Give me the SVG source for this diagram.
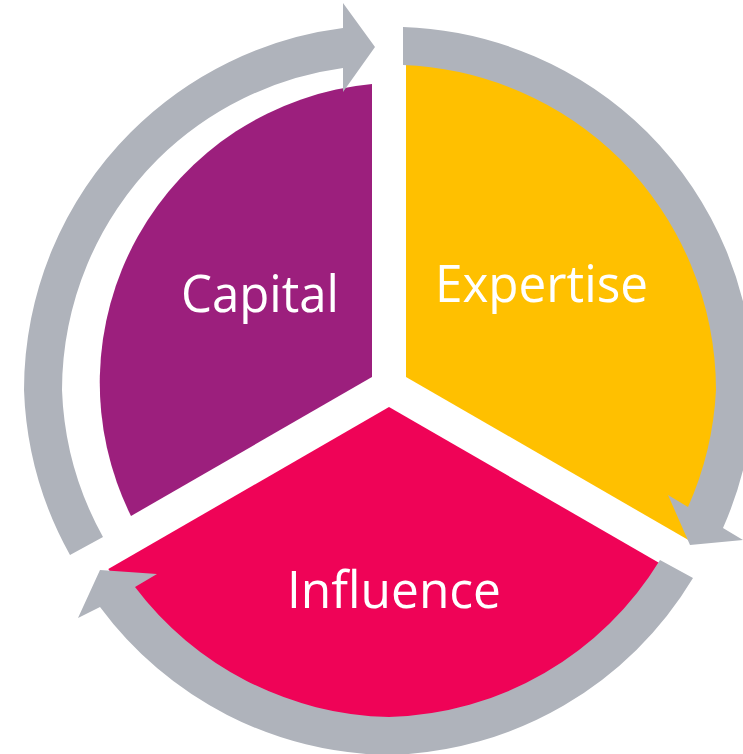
<svg xmlns="http://www.w3.org/2000/svg" width="743" height="754" viewBox="0 0 743 754">
<style>
.lbl{font-family:"Open Sans","Noto Sans","DejaVu Sans",sans-serif;font-size:52px;fill:#ffffff}
.arrow{fill:#afb3bb}
</style>
<rect width="743" height="754" fill="#ffffff"/>
<g id="capital">
<path fill="#9c1f7d" d="M372,84 L372,377 L131,516 A300,300 0 0,1 372,84 Z"/>
<text class="lbl" x="181" y="312" textLength="158" lengthAdjust="spacingAndGlyphs">Capital</text>
</g>
<g id="expertise">
<path fill="#ffc000" d="M406,377 L406,52.4 A338,338 0 0,1 691,541.5 Z"/>
<text class="lbl" x="435" y="302" textLength="213" lengthAdjust="spacingAndGlyphs">Expertise</text>
</g>
<g id="influence">
<path fill="#ef0357" d="M389,407 L669.7,569 A333,333 0 0,1 108.3,569 Z"/>
<text class="lbl" x="287" y="608" textLength="214" lengthAdjust="spacingAndGlyphs">Influence</text>
</g>
<g id="connectors">
<path class="arrow" d="M70,555 A365,365 0 0,1 24,390 A365,365 0 0,1 131,132 A365,365 0 0,1 343,28 L343,3 L375,47 L343,92 L343,68 A327,327 0 0,0 158,159 A327,327 0 0,0 62,390 A327,327 0 0,0 103,537 Z"/>
<path class="arrow" d="M403,27 A365,365 0 0,1 647,132 A365,365 0 0,1 754,390 A365,365 0 0,1 723,528 L743,540 L690,545 L668,495 L688,507 A327,327 0 0,0 716,390 A327,327 0 0,0 620,159 A327,327 0 0,0 403,65 Z"/>
<path class="arrow" d="M693,578 A365,365 0 0,1 389,755 A365,365 0 0,1 100,607 L78,618 L100,570 L157,574 L135,587 A327,327 0 0,0 389,717 A327,327 0 0,0 660,560 Z"/>
</g>
</svg>
